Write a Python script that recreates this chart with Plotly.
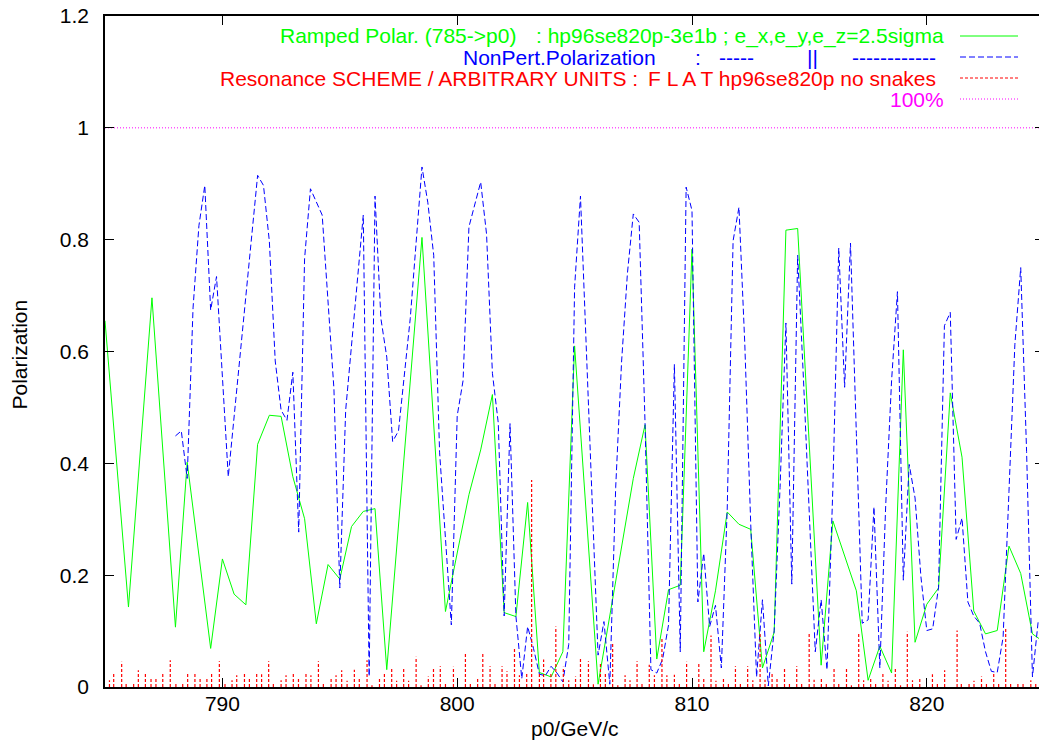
import plotly.graph_objects as go

# ---------------- data ----------------
ramp_x = [785.0, 786.0, 787.0, 788.0, 788.5, 789.5, 790.0, 790.5, 791.0, 791.5,
          792.0, 792.5, 793.0, 793.5, 794.0, 794.5, 795.0, 795.5, 796.0, 796.5,
          797.0, 798.5, 799.5, 800.5, 801.0, 801.5, 802.0, 802.5, 803.0, 803.5,
          804.0, 804.5, 805.0, 806.0, 807.5, 808.0, 808.5, 809.0, 809.5, 810.0,
          810.5, 811.0, 811.5, 812.0, 812.5, 813.0, 813.5, 814.0, 814.5, 815.5,
          816.0, 817.0, 817.5, 818.0, 818.5, 819.0, 819.5, 820.0, 820.5, 821.0,
          821.5, 822.0, 822.5, 823.0, 823.5, 824.0, 824.5, 825.0]
ramp_y = [0.655, 0.143, 0.696, 0.107, 0.402, 0.069, 0.229, 0.166, 0.147, 0.434,
          0.486, 0.484, 0.376, 0.301, 0.113, 0.219, 0.193, 0.287, 0.314, 0.319,
          0.031, 0.804, 0.135, 0.344, 0.424, 0.523, 0.133, 0.126, 0.330, 0.026,
          0.018, 0.063, 0.610, 0.005, 0.373, 0.469, 0.050, 0.174, 0.182, 0.783,
          0.063, 0.172, 0.313, 0.291, 0.282, 0.034, 0.098, 0.817, 0.820, 0.039,
          0.297, 0.172, 0.012, 0.073, 0.025, 0.603, 0.080, 0.148, 0.177, 0.526,
          0.411, 0.136, 0.095, 0.101, 0.252, 0.203, 0.095, 0.080]

nonpert_x = [788.0, 788.25, 788.5, 788.75, 789.0, 789.25, 789.5, 789.75, 790.25, 791.5,
             791.75, 792.0, 792.25, 792.5, 792.75, 793.0, 793.25, 793.5, 793.75, 794.25,
             794.75, 795.0, 795.25, 796.0, 796.25, 796.5, 796.75, 797.0, 797.25, 797.5,
             798.0, 798.5, 798.75, 799.0, 799.25, 799.75, 800.0, 800.25, 800.5, 801.0,
             801.25, 801.5, 801.75, 802.0, 802.25, 802.5, 802.75, 803.0, 803.25, 803.5,
             803.75, 804.0, 804.25, 804.5, 804.75, 805.0, 805.25, 805.5, 805.75, 806.0,
             806.25, 806.5, 806.75, 807.0, 807.25, 807.5, 807.75, 808.0, 808.25, 808.5,
             808.75, 809.0, 809.25, 809.5, 809.75, 810.0, 810.25, 810.5, 810.75, 811.0,
             811.25, 811.5, 811.75, 812.0, 812.25, 812.5, 812.75, 813.0, 813.25, 813.5,
             813.75, 814.0, 814.25, 814.5, 814.75, 815.0, 815.25, 815.5, 815.75, 816.0,
             816.25, 816.5, 816.75, 817.0, 817.25, 817.5, 817.75, 818.0, 818.25, 818.5,
             818.75, 819.0, 819.25, 819.5, 819.75, 820.0, 820.25, 820.5, 820.75, 821.0,
             821.25, 821.5, 821.75, 822.0, 822.25, 822.5, 822.75, 823.0, 823.25, 823.5,
             823.75, 824.0, 824.25, 824.5, 824.75]
nonpert_y = [0.449, 0.458, 0.373, 0.678, 0.825, 0.897, 0.674, 0.734, 0.376, 0.915,
             0.897, 0.797, 0.583, 0.495, 0.477, 0.563, 0.277, 0.766, 0.891, 0.844,
             0.533, 0.177, 0.495, 0.844, 0.019, 0.878, 0.659, 0.590, 0.439, 0.458,
             0.659, 0.930, 0.866, 0.772, 0.420, 0.111, 0.485, 0.548, 0.823, 0.903,
             0.810, 0.561, 0.472, 0.127, 0.471, 0.127, 0.015, 0.108, 0.069, 0.023,
             0.020, 0.037, 0.025, 0.009, 0.076, 0.715, 0.878, 0.600, 0.312, 0.057,
             0.117, 0.005, 0.357, 0.581, 0.740, 0.846, 0.831, 0.472, 0.031, 0.025,
             0.050, 0.111, 0.577, 0.063, 0.894, 0.852, 0.152, 0.239, 0.108, 0.146,
             0.034, 0.318, 0.798, 0.858, 0.612, 0.293, 0.018, 0.156, 0.002, 0.101,
             0.357, 0.651, 0.184, 0.772, 0.548, 0.293, 0.063, 0.156, 0.031, 0.357,
             0.785, 0.536, 0.794, 0.453, 0.114, 0.120, 0.322, 0.034, 0.325, 0.548,
             0.707, 0.191, 0.398, 0.338, 0.197, 0.101, 0.104, 0.178, 0.646, 0.670,
             0.264, 0.302, 0.152, 0.127, 0.114, 0.063, 0.028, 0.026, 0.089, 0.350,
             0.612, 0.750, 0.421, 0.018, 0.120]

res_x = [785.19, 785.37, 785.71, 785.90, 786.22, 786.42, 786.72, 786.96, 787.17, 787.46,
         787.78, 788.02, 788.31, 788.52, 788.83, 789.05, 789.34, 789.54, 789.87, 790.11,
         790.41, 790.61, 790.94, 791.15, 791.46, 791.67, 791.97, 792.17, 792.50, 792.71,
         793.02, 793.24, 793.56, 793.77, 794.09, 794.30, 794.63, 794.84, 795.08, 795.31,
         795.62, 795.83, 796.16, 796.37, 796.69, 796.90, 797.21, 797.42, 797.72, 797.93,
         798.25, 798.46, 798.77, 798.99, 799.28, 799.50, 799.84, 800.35, 800.56, 800.87,
         801.09, 801.40, 801.61, 801.91, 802.12, 802.44, 802.65, 802.96, 803.17, 803.50,
         803.68, 803.99, 804.20, 804.52, 804.75, 805.04, 805.25, 805.59, 805.80, 806.10,
         806.31, 806.62, 806.84, 807.15, 807.36, 807.66, 807.87, 808.18, 808.40, 808.72,
         808.93, 809.25, 809.46, 809.77, 810.29, 810.50, 810.81, 811.02, 811.34, 811.55,
         811.85, 812.06, 812.37, 812.59, 812.90, 813.11, 813.41, 813.62, 813.94, 814.15,
         814.46, 814.67, 814.99, 815.20, 815.51, 815.72, 816.05, 816.25, 816.58, 816.79,
         817.10, 817.31, 817.61, 817.82, 818.13, 818.35, 818.66, 818.88, 819.17, 819.39,
         819.70, 820.24, 820.45, 820.76, 821.29, 821.47, 821.80, 822.01, 822.33, 822.54,
         822.85, 823.06, 823.36, 823.57, 823.88, 824.10, 824.43, 824.64]
res_h = [0.012, 0.027, 0.045, 0.007, 0.006, 0.030, 0.024, 0.018, 0.015, 0.024,
         0.048, 0.009, 0.009, 0.027, 0.025, 0.017, 0.017, 0.024, 0.046, 0.009,
         0.012, 0.021, 0.027, 0.018, 0.025, 0.023, 0.046, 0.009, 0.012, 0.021,
         0.025, 0.015, 0.027, 0.021, 0.046, 0.009, 0.017, 0.021, 0.030, 0.011,
         0.031, 0.017, 0.048, 0.003, 0.017, 0.025, 0.033, 0.011, 0.033, 0.011,
         0.054, 0.003, 0.019, 0.033, 0.037, 0.006, 0.036, 0.062, 0.006, 0.018,
         0.062, 0.037, 0.009, 0.037, 0.028, 0.068, 0.021, 0.024, 0.370, 0.024,
         0.049, 0.027, 0.108, 0.036, 0.012, 0.019, 0.051, 0.046, 0.005, 0.042,
         0.027, 0.080, 0.003, 0.021, 0.012, 0.046, 0.006, 0.040, 0.021, 0.089,
         0.021, 0.022, 0.007, 0.045, 0.042, 0.015, 0.092, 0.011, 0.018, 0.009,
         0.037, 0.009, 0.037, 0.012, 0.095, 0.013, 0.024, 0.015, 0.033, 0.009,
         0.037, 0.009, 0.098, 0.013, 0.017, 0.009, 0.032, 0.009, 0.034, 0.003,
         0.098, 0.012, 0.015, 0.007, 0.025, 0.011, 0.033, 0.003, 0.099, 0.012,
         0.015, 0.023, 0.006, 0.030, 0.101, 0.009, 0.009, 0.011, 0.019, 0.006,
         0.025, 0.006, 0.106, 0.006, 0.007, 0.006, 0.012, 0.006]

full_x = [785, 825]
full_y = [1.0, 1.0]

y_ticks = [0, 0.2, 0.4, 0.6, 0.8, 1.0, 1.2]
y_tick_text = ["0", "0.2", "0.4", "0.6", "0.8", "1", "1.2"]
x_ticks = [790, 800, 810, 820]

# ---------------- styling ----------------
FONT = "Liberation Sans, Arial, Helvetica, sans-serif"
FS = 21
GREEN, BLUE, RED, MAG = "#00ff00", "#0000ff", "#ff0000", "#ff00ff"
W, H = 1039, 746
ML, MR, MT, MB = 105, 0, 16, 59
PW, PH = W - ML - MR, H - MT - MB


def px(xp):
    return (xp - ML) / PW


def py(yp):
    return (MT + PH - yp) / PH


# impulses built from the data arrays
imp_x, imp_y = [], []
for xv, hv in zip(res_x, res_h):
    imp_x += [xv, xv, None]
    imp_y += [0, hv, None]

fig = go.Figure()
fig.add_trace(go.Scatter(x=ramp_x, y=ramp_y, mode="lines",
                         line=dict(color=GREEN, width=1), hoverinfo="skip"))
fig.add_trace(go.Scatter(x=nonpert_x, y=nonpert_y, mode="lines",
                         line=dict(color=BLUE, width=1, dash="6px,3px"), hoverinfo="skip"))
fig.add_trace(go.Scatter(x=imp_x, y=imp_y, mode="lines", connectgaps=False,
                         line=dict(color=RED, width=1.2, dash="3px,2px"), hoverinfo="skip"))
fig.add_trace(go.Scatter(x=full_x, y=full_y, mode="lines", yaxis="y2",
                         line=dict(color=MAG, width=1, dash="1px,2px"), hoverinfo="skip"))

x_end = 785 + PW / 23.48

fig.update_layout(
    width=W, height=H,
    margin=dict(l=ML, r=MR, t=MT, b=MB, autoexpand=False),
    paper_bgcolor="white", plot_bgcolor="white",
    showlegend=False,
    font=dict(family=FONT, size=FS, color="black"),
    xaxis=dict(range=[785, x_end], tickmode="array", tickvals=x_ticks,
               ticks="inside", ticklen=9, tickwidth=1, tickcolor="black",
               showline=True, linecolor="black", linewidth=1.5, mirror="ticks",
               showgrid=False, zeroline=False,
               tickfont=dict(family=FONT, size=FS, color="black"),
               ticklabelstandoff=-3),
    yaxis=dict(range=[0, 1.2], tickmode="array", tickvals=y_ticks, ticktext=y_tick_text,
               ticks="inside", ticklen=9, tickwidth=1, tickcolor="black",
               showline=True, linecolor="black", linewidth=1.5, mirror=False,
               showgrid=False, zeroline=False,
               tickfont=dict(family=FONT, size=FS, color="black"),
               ticklabelstandoff=10),
    yaxis2=dict(range=[0, 1.2], overlaying="y", side="right", tickmode="array",
                tickvals=y_ticks, ticks="inside", ticklen=4, tickwidth=1, tickcolor="black",
                showticklabels=False, showline=False, showgrid=False, zeroline=False),
)

ann = []


def add_text(text, xp, yp, color, anchor="left", angle=0):
    ann.append(dict(text=text, x=px(xp), y=py(yp), xref="paper", yref="paper",
                    xanchor=anchor, yanchor="middle", showarrow=False, textangle=angle,
                    font=dict(family=FONT, size=FS, color=color)))


# key (legend) rows
add_text("Ramped Polar. (785->p0)", 278, 36, GREEN)
add_text(": hp96se820p-3e1b ; e_x,e_y,e_z=2.5sigma", 946, 36, GREEN, "right")
add_text("NonPert.Polarization", 461, 57, BLUE)
add_text(":", 693, 57, BLUE)
add_text("-----", 717, 57, BLUE)
add_text("||", 805, 57, BLUE)
add_text("------------", 850, 57, BLUE)
add_text("Resonance SCHEME / ARBITRARY UNITS :", 218, 78, RED)
add_text("F L A T hp96se820p no snakes", 938, 78, RED, "right")
add_text("100%", 946, 99.5, MAG, "right")

# axis titles
add_text("p0/GeV/c", 575, 729, "black", "center")
add_text("Polarization", 19.5, 355, "black", "center", -90)
fig.update_layout(annotations=ann)

shapes = []
for yp, col, dash in [(36, GREEN, "solid"), (57, BLUE, "6px,3px"),
                      (78, RED, "3px,2px"), (99, MAG, "1px,2px")]:
    shapes.append(dict(type="line", xref="paper", yref="paper",
                       x0=px(960), x1=px(1018), y0=py(yp), y1=py(yp),
                       line=dict(color=col, width=1, dash=dash)))
fig.update_layout(shapes=shapes)

fig.write_html("out.html", config={"displayModeBar": False},
               post_script="document.body.style.margin='0';")
